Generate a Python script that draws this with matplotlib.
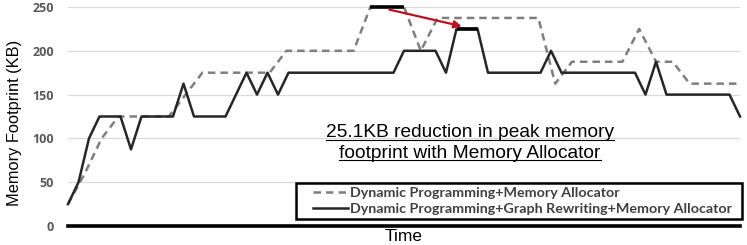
import numpy as np
import matplotlib
matplotlib.use("Agg")
import matplotlib.pyplot as plt
from matplotlib.patches import Rectangle

# Data (memory footprint in KB over normalized time)
dp_alloc = [25, 60, 100, 125, 125, 125, 125, 150, 175, 175,
            175, 175, 175, 200, 200, 200, 200, 200, 250, 250,
            250, 200, 237.5, 237.5, 237.5, 237.5, 237.5, 237.5, 237.5, 162.5,
            187.5, 187.5, 187.5, 187.5, 225, 187.5, 187.5, 162.5, 162.5, 162.5,
            162.5]
dp_gr_alloc = [25, 50, 100, 125, 125, 125, 87.5, 125, 125, 125,
               125, 162.5, 125, 125, 125, 125, 150, 175, 150, 175,
               150, 175, 175, 175, 175, 175, 175, 175, 175, 175,
               175, 175, 200, 200, 200, 200, 175, 225, 225, 225,
               175, 175, 175, 175, 175, 175, 200, 175, 175, 175,
               175, 175, 175, 175, 175, 150, 187.5, 150, 150, 150,
               150, 150, 150, 150, 125]
labels = ["Dynamic Programming+Memory Allocator",
          "Dynamic Programming+Graph Rewriting+Memory Allocator"]
yticks = [0, 50, 100, 150, 200, 250]
note = "25.1KB reduction in peak memory\nfootprint with Memory Allocator"

T_END = 64.0
x1 = np.linspace(0, T_END, len(dp_alloc))
x2 = np.linspace(0, T_END, len(dp_gr_alloc))
y1 = np.array(dp_alloc, dtype=float)
y2 = np.array(dp_gr_alloc, dtype=float)

SANS = ["Liberation Sans", "DejaVu Sans"]
NOTE_FS = 13.8

fig = plt.figure(figsize=(7.47, 2.45), dpi=100)
ax = fig.add_axes([68/747, 19/245, 672/747, 219/245])

ax.set_xlim(0, T_END)
ax.set_ylim(0, 250)
ax.set_yticks(yticks)
ax.set_yticklabels([str(t) for t in yticks], fontsize=9, fontweight="bold",
                   color="#595959", family=["Open Sans", "DejaVu Sans"])
ax.tick_params(axis="y", length=0, pad=10)
ax.set_xticks([])
for s in ["top", "right", "left"]:
    ax.spines[s].set_visible(False)
ax.spines["bottom"].set_linewidth(2.6)
ax.spines["bottom"].set_color("black")
ax.spines["bottom"].set_zorder(5)
ax.grid(axis="y", color="#d9d9d9", linewidth=0.9)
ax.set_axisbelow(True)

l1, = ax.plot(x1, y1, color="#7f7f7f", lw=1.8, ls=(0, (3, 2)), label=labels[0],
              clip_on=False, zorder=3)
l2, = ax.plot(x2, y2, color="#262626", lw=1.8, label=labels[1], clip_on=False, zorder=3)

# highlight the peaks
p1 = y1.max()
m1 = y1 == p1
ax.plot(x1[m1], y1[m1], color="black", lw=2.6, clip_on=False, zorder=4,
        solid_capstyle="butt")
p2 = y2.max()
m2 = y2 == p2
ax.plot(x2[m2], y2[m2], color="black", lw=2.6, clip_on=False, zorder=4,
        solid_capstyle="butt")

# arrow from dashed peak to solid peak
xs = x1[m1].mean() + 0.2
xe = x2[m2][0] + 0.5
ax.annotate("", xy=(xe, p2 + 3), xytext=(xs, p1 - 3),
            arrowprops=dict(arrowstyle="-|>", color="#c0101e", lw=1.6,
                            mutation_scale=11, shrinkA=0, shrinkB=0), zorder=6)

t = ax.text(38.3, 95, note, ha="center", va="center", fontsize=NOTE_FS,
            family=SANS, color="black", linespacing=1.35, zorder=6)
# underline each line of the annotation
fig.canvas.draw()
r = fig.canvas.get_renderer()
lines = note.split("\n")
bb = t.get_window_extent(r)
inv = ax.transData.inverted()
for k, ln in enumerate(lines):
    tt = ax.text(0, 0, ln, fontsize=NOTE_FS, family=SANS)
    w = tt.get_window_extent(r).width
    tt.remove()
    cx = (bb.x0 + bb.x1) / 2
    lh = bb.height / len(lines)
    yb = bb.y1 - lh * (k + 1) + 2.5
    (ax0, ay0) = inv.transform((cx - w / 2, yb))
    (ax1, ay1) = inv.transform((cx + w / 2, yb))
    ax.plot([ax0, ax1], [ay0, ay1], color="black", lw=0.8, zorder=6)

ax.set_ylabel("Memory Footprint (KB)", fontsize=11.8, family=SANS)
ax.yaxis.set_label_coords(-0.068, 0.47)
ax.set_xlabel("Time", fontsize=12.5, family=SANS, labelpad=2)

# legend (frame drawn separately to match the reference box)
leg = fig.legend(handles=[l1, l2], loc="center left",
                 bbox_to_anchor=(313/747, (245 - 201)/245),
                 frameon=False,
                 prop={"family": ["Lato", "DejaVu Sans"], "weight": "bold", "size": 10.3},
                 handlelength=2.45, handletextpad=0.12, borderpad=0.0,
                 labelspacing=0.25, borderaxespad=0)
leg.set_zorder(10)
for txt in leg.get_texts():
    txt.set_color("#404040")
fig.patches.append(Rectangle((296/747, (245 - 219)/245), 446/747, 36/245,
                             transform=fig.transFigure, facecolor="white",
                             edgecolor="black", linewidth=1.8, zorder=9))

fig.savefig("out.png", dpi=100)
